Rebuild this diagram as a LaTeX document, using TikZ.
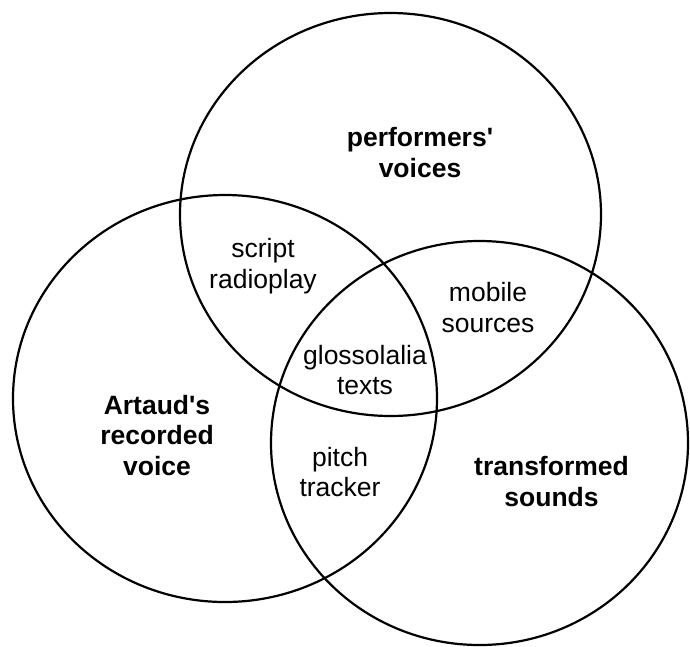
\documentclass[tikz,border=0pt]{standalone}
\usepackage{fontspec}
\setmainfont{Liberation Sans}
\newlength{\du}
\setlength{\du}{1pt}
\tikzset{
  venntext/.style={anchor=base, align=center, inner sep=0pt,
    font=\fontsize{26.5\du}{30.5\du}\selectfont},
  venntitle/.style={venntext, font=\fontsize{26.5\du}{30.5\du}\selectfont\bfseries}
}

\begin{document}
\begin{tikzpicture}
\pgftransformxscale{1.000000}
\pgftransformyscale{-1.000000}
\useasboundingbox (0\du,0\du) rectangle (690\du,646\du);
\definecolor{dialinecolor}{rgb}{0.000000, 0.000000, 0.000000}
\pgfsetstrokecolor{dialinecolor}
\pgfsetlinewidth{2.200000\du}
\pgfsetdash{}{0pt}
{
% performers' voices
\pgfpathellipse{\pgfpoint{390.500000\du}{214.500000\du}}{\pgfpoint{210.500000\du}{0\du}}{\pgfpoint{0\du}{201.500000\du}}
\pgfusepath{stroke}
}
{
% Artaud's recorded voice
\pgfpathellipse{\pgfpoint{225.000000\du}{398.500000\du}}{\pgfpoint{212.000000\du}{0\du}}{\pgfpoint{0\du}{203.500000\du}}
\pgfusepath{stroke}
}
{
% transformed sounds
\pgfpathellipse{\pgfpoint{479.500000\du}{443.000000\du}}{\pgfpoint{208.500000\du}{0\du}}{\pgfpoint{0\du}{202.000000\du}}
\pgfusepath{stroke}
}
% setfont left to latex (anchor is the last line's baseline)
\node[venntitle] (perf) at (420.000000\du,177.000000\du){performers\textquotesingle\\voices};
\node[venntitle] (artaud) at (157.000000\du,475.000000\du){Artaud\textquotesingle s\\recorded\\voice};
\node[venntitle] (trans) at (551.500000\du,506.000000\du){transformed\\sounds};
% setfont left to latex
\node[venntext] (script) at (263.000000\du,288.000000\du){script\\radioplay};
\node[venntext] (mobile) at (488.000000\du,332.000000\du){mobile\\sources};
\node[venntext] (gloss) at (365.000000\du,394.700000\du){glossolalia\\texts};
\node[venntext] (pitch) at (340.000000\du,496.500000\du){pitch\\tracker};
\end{tikzpicture}
\end{document}
